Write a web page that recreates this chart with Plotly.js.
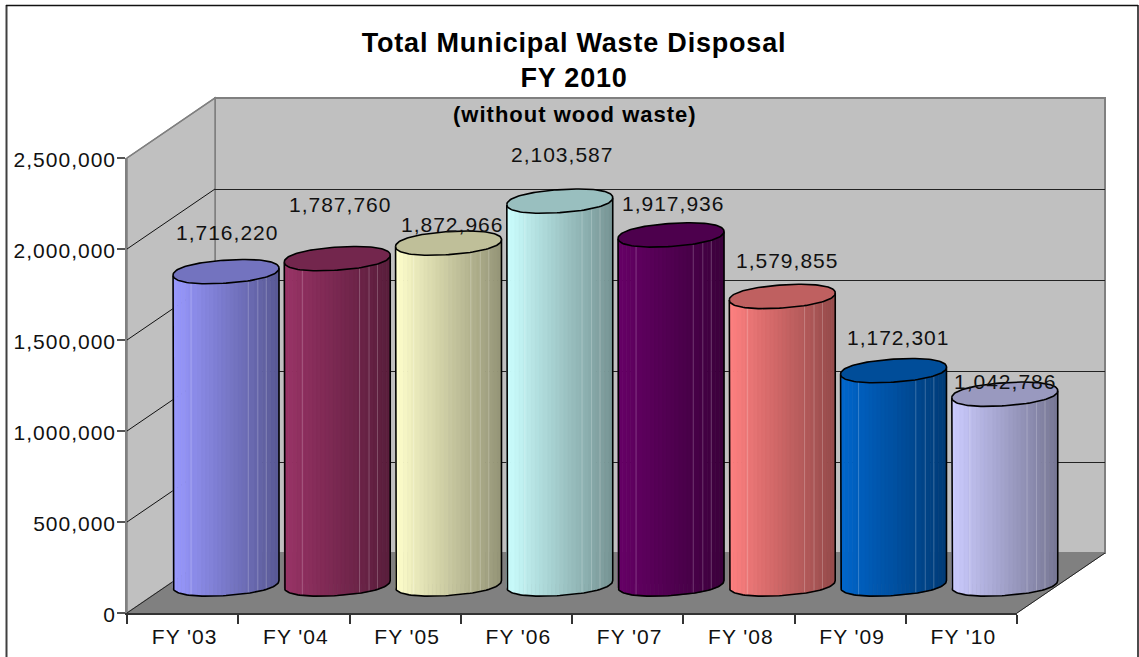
<!DOCTYPE html>
<html>
<head>
<meta charset="utf-8">
<script src="https://cdn.plot.ly/plotly-3.0.1.min.js"></script>
<style>
html,body{margin:0;padding:0;background:#fff;overflow:hidden}
.x3tick text,.y3tick text,.annotation-text{letter-spacing:1px}
.gtitle{letter-spacing:0.8px}
</style>
</head>
<body>
<div id="chart" style="width:1139px;height:657px"></div>
<script>
// ---- data ----
const categories = ["FY '03","FY '04","FY '05","FY '06","FY '07","FY '08","FY '09","FY '10"];
const disposal = [1716220,1787760,1872966,2103587,1917936,1579855,1172301,1042786];
const labels = ["1,716,220","1,787,760","1,872,966","2,103,587","1,917,936","1,579,855","1,172,301","1,042,786"];
const valueTicks = [0,500000,1000000,1500000,2000000,2500000];
const valueTickLabels = ["0","500,000","1,000,000","1,500,000","2,000,000","2,500,000"];
const titleText = "Total Municipal Waste Disposal<br>FY 2010";
const subtitleText = "(without wood waste)";

// ---- styling ----
const barColors = [[153,153,255],[153,51,102],[255,255,204],[204,255,255],[102,0,102],[255,128,128],[0,102,204],[204,204,255]];
const labelShiftX = [1,3,3,2,2,5,4,0];
const labelShiftY = [39,54,19,47,31,36,33,13];
const W = 1139, H = 657;
const FONT = '"Liberation Sans", Arial, sans-serif';
const yTop = 2500000, yBelow = 200000;
const pxPerUnit = 455 / yTop;
const HALF = 0.476;                // half cylinder width, in category units
const RY = 11.5 / pxPerUnit;       // ellipse half height, in value units
const TILT = 3.5 / pxPerUnit;      // ellipse tilt
const STRIPS = 26;
const P = 2.2;                     // superellipse exponent of the cylinder ends

const fx = p => p / W, fy = p => 1 - p / H;
const rgb = (c, f) => `rgb(${c.map(v => Math.round(v * f)).join(',')})`;
const bulge = u => Math.pow(Math.max(0, 1 - Math.pow(Math.abs(u), P)), 1 / P);
const arc = (level, u, side) => level + side * RY * bulge(u) + TILT * u;

const traces = [];
// back-wall axes (gridlines only)
traces.push({type:'scatter', mode:'markers', x:categories.map((_, i) => i), y:disposal, xaxis:'x', yaxis:'y',
  marker:{opacity:0}, hoverinfo:'skip', showlegend:false});
// true value bars on the middle plane
traces.push({type:'bar', x:categories.map((_, i) => i), y:disposal, width:0.66, xaxis:'x2', yaxis:'y2',
  marker:{color:barColors.map(c => rgb(c, 0.8))}, text:categories, textposition:'none', hoverinfo:'text+y', showlegend:false});

disposal.forEach((v, i) => {
  const c = barColors[i];
  // shaded body strips
  for (let s = 0; s < STRIPS; s++) {
    const u1 = -1 + 2 * s / STRIPS, u2 = -1 + 2 * (s + 1) / STRIPS;
    const us = [0, 1, 2, 3].map(k => u1 + (u2 - u1) * k / 3);
    const xs = [], ys = [];
    us.forEach(u => { xs.push(i + HALF * u); ys.push(arc(v, u, -1)); });
    us.slice().reverse().forEach(u => { xs.push(i + HALF * u); ys.push(arc(0, u, -1)); });
    xs.push(xs[0]); ys.push(ys[0]);
    const shade = 1 - 0.42 * (((u1 + u2) / 2 + 1) / 2);
    const col = rgb(c, shade);
    traces.push({type:'scatter', mode:'lines', x:xs, y:ys, fill:'toself', fillcolor:col,
      line:{color:col, width:0.7}, xaxis:'x2', yaxis:'y2', hoverinfo:'skip', showlegend:false});
  }
  // faint highlight lines on the body
  const lx = [], ly = [];
  [-0.66, 0.42, 0.6, 0.76].forEach(u => {
    lx.push(i + HALF * u, i + HALF * u, null);
    ly.push(arc(v, u, -1), arc(0, u, -1), null);
  });
  traces.push({type:'scatter', mode:'lines', x:lx, y:ly, line:{color:'rgba(255,255,255,0.22)', width:1},
    xaxis:'x2', yaxis:'y2', hoverinfo:'skip', showlegend:false});
  // body outline: left side, front bottom arc, right side
  const N = 60;
  const sweep = [];
  for (let k = 0; k <= N; k++) sweep.push(-Math.cos(Math.PI * k / N));
  const ox = [i - HALF].concat(sweep.map(u => i + HALF * u), [i + HALF]);
  const oy = [v - TILT].concat(sweep.map(u => arc(0, u, -1)), [v + TILT]);
  traces.push({type:'scatter', mode:'lines', x:ox, y:oy, line:{color:'#000', width:1.6},
    xaxis:'x2', yaxis:'y2', hoverinfo:'skip', showlegend:false});
  // top cap
  const back = sweep.slice().reverse();
  const cx = sweep.map(u => i + HALF * u).concat(back.map(u => i + HALF * u));
  const cy = sweep.map(u => arc(v, u, -1)).concat(back.map(u => arc(v, u, 1)));
  traces.push({type:'scatter', mode:'lines', x:cx, y:cy, fill:'toself', fillcolor:rgb(c, 0.75),
    line:{color:'#000', width:1.6}, xaxis:'x2', yaxis:'y2', hoverinfo:'skip', showlegend:false});
});
// front axes (visible ticks)
traces.push({type:'scatter', mode:'markers', x:categories, y:disposal, xaxis:'x3', yaxis:'y3',
  marker:{opacity:0}, hoverinfo:'skip', showlegend:false});

const poly = (pts, fill, line, width, layer) => ({type:'path', xref:'paper', yref:'paper', layer:layer || 'below',
  path:'M' + pts.map(p => fx(p[0]) + ',' + fy(p[1])).join('L') + 'Z', fillcolor:fill,
  line:{color:line, width:width}});
const seg = (a, b, color, width, layer) => ({type:'line', xref:'paper', yref:'paper', layer:layer || 'below',
  x0:fx(a[0]), y0:fy(a[1]), x1:fx(b[0]), y1:fy(b[1]), line:{color:color, width:width}});

const shapes = [
  poly([[215,98],[1105,98],[1105,553],[215,553]], '#c0c0c0', '#808080', 2),
  poly([[127,158],[215,98],[215,553],[127,613]], '#c0c0c0', '#808080', 1.5),
  poly([[127,613],[215,553],[1105,553],[1017,613]], '#808080', '#808080', 1),
  seg([127,613],[215,553], '#222', 1),
  seg([1017,613],[1105,553], '#222', 1),
  seg([6.5,5],[6.5,700], '#404040', 2, 'above'),
  seg([6,5.5],[1138,5.5], '#111', 1.5, 'above'),
  seg([1138,5],[1138,700], '#111', 1.5, 'above')
];
valueTicks.slice(1, -1).forEach(t => {
  const y = 613 - t * pxPerUnit;
  shapes.push(seg([127,y],[215,y - 60], '#111', 1));
});
shapes.push(seg([127,158],[215,98], '#808080', 1.5));

const annotations = disposal.map((v, i) => ({xref:'x2', yref:'y2', x:i, y:v, text:labels[i], showarrow:false,
  yanchor:'middle', xshift:labelShiftX[i], yshift:labelShiftY[i], font:{family:FONT, size:21, color:'#111'}}));
annotations.push({xref:'paper', yref:'paper', x:fx(574.5), y:fy(114), text:subtitleText, showarrow:false,
  yanchor:'middle', font:{family:FONT, size:22, color:'#000', weight:700}});

const hidden = {showgrid:false, zeroline:false, showticklabels:false, ticks:'', showline:false, fixedrange:true};
const layout = {
  width:W, height:H, margin:{l:0, r:0, t:0, b:0, pad:0},
  paper_bgcolor:'#fff', plot_bgcolor:'rgba(0,0,0,0)', showlegend:false, bargap:0,
  title:{text:titleText, x:574/W, xanchor:'center', y:fy(52), yanchor:'top',
    font:{family:FONT, size:27, color:'#000', weight:700}},
  xaxis:Object.assign({}, hidden, {domain:[fx(215), fx(1105)], range:[-0.5,7.5], anchor:'y'}),
  yaxis:Object.assign({}, hidden, {domain:[fy(553), fy(98)], range:[0,yTop], anchor:'x',
    showgrid:true, gridcolor:'#222', gridwidth:1, tickmode:'array', tickvals:valueTicks}),
  xaxis2:Object.assign({}, hidden, {domain:[fx(170.4), fx(1060.4)], range:[-0.5,7.5], anchor:'y2'}),
  yaxis2:Object.assign({}, hidden, {domain:[fy(584 + yBelow * pxPerUnit), fy(129)], range:[-yBelow,yTop], anchor:'x2'}),
  xaxis3:{domain:[fx(127), fx(1017)], type:'category', categoryorder:'array', categoryarray:categories,
    range:[-0.5,7.5], anchor:'y3', tickson:'boundaries', ticks:'outside', ticklen:9, tickwidth:1.5, tickcolor:'#333',
    showline:true, linecolor:'#333', linewidth:2, showgrid:false, zeroline:false, fixedrange:true,
    ticklabelstandoff:4, ticklabelshift:2, tickfont:{family:FONT, size:21, color:'#111'}},
  yaxis3:{domain:[fy(613), fy(158)], range:[0,yTop], anchor:'x3', tickmode:'array', tickvals:valueTicks,
    ticktext:valueTickLabels, ticks:'outside', ticklen:8, tickwidth:1.5, tickcolor:'#555',
    showline:true, linecolor:'#808080', linewidth:1.5, showgrid:false, zeroline:false, fixedrange:true,
    ticklabelstandoff:-3, ticklabelshift:2, tickfont:{family:FONT, size:21, color:'#111'}},
  shapes:shapes, annotations:annotations
};
Plotly.newPlot('chart', traces, layout, {displayModeBar:false, responsive:false});
</script>
</body>
</html>
